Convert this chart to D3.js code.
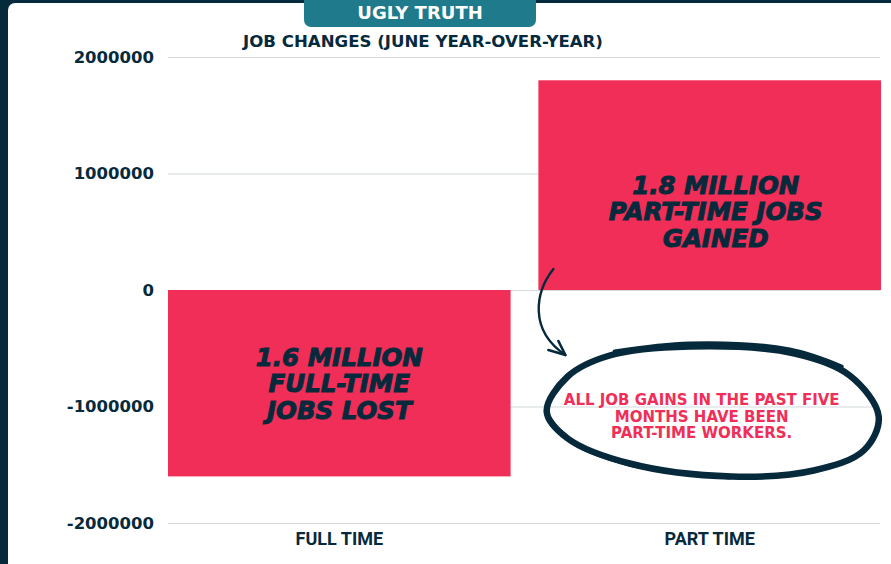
<!DOCTYPE html>
<html>
<head>
<meta charset="utf-8">
<script src="https://cdn.jsdelivr.net/npm/d3@7"></script>
<style>
  html, body { margin: 0; padding: 0; background: #052a3c; overflow: hidden; }
  svg { display: block; }
</style>
</head>
<body>
<svg id="chart" width="891" height="564"></svg>
<script>
// ---- data ----
const categories = ["FULL TIME", "PART TIME"];
const jobChanges = [-1600000, 1800000];
const yTickValues = [-2000000, -1000000, 0, 1000000, 2000000];
const barCaptions = [
  ["1.6 MILLION", "FULL-TIME", "JOBS LOST"],
  ["1.8 MILLION", "PART-TIME JOBS", "GAINED"]
];
const noteLines = ["ALL JOB GAINS IN THE PAST FIVE", "MONTHS HAVE BEEN", "PART-TIME WORKERS."];
const chartTitle = "JOB CHANGES (JUNE YEAR-OVER-YEAR)";
const tabLabel = "UGLY TRUTH";

// ---- style ----
const NAVY = "#062a3c";
const PINK = "#f02e57";
const TEAL = "#1f7a8b";
const GRID = "#d3d9dc";
const SANS = "'DejaVu Sans', sans-serif";

const svg = d3.select("#chart");

// panel card on the dark background
svg.append("rect")
  .attr("x", 8).attr("y", 3)
  .attr("width", 900).attr("height", 600)
  .attr("rx", 7)
  .attr("fill", "#ffffff");

// scales
const y = d3.scaleLinear().domain([-2000000, 2000000]).range([523, 57]);
const x = d3.scaleBand().domain(categories).range([168, 881]).paddingInner(0.075).paddingOuter(0);
const plotLeft = 168, plotRight = 880;

// gridlines
const grid = svg.append("g")
  .attr("transform", `translate(${plotLeft},0)`)
  .call(d3.axisLeft(y).tickValues(yTickValues).tickSize(-(plotRight - plotLeft)).tickFormat(""));
grid.select(".domain").remove();
grid.selectAll("line").attr("stroke", GRID).attr("stroke-width", 1);

// y axis labels (plain hyphen for negatives)
const yAxis = svg.append("g")
  .attr("transform", `translate(${plotLeft},0)`)
  .call(d3.axisLeft(y).tickValues(yTickValues).tickSize(0).tickPadding(14).tickFormat(d => String(d)));
yAxis.select(".domain").remove();
yAxis.selectAll("text")
  .attr("fill", NAVY)
  .style("font-family", SANS)
  .style("font-weight", "700")
  .style("font-size", "16.5px");

// bars
const data = categories.map((c, i) => ({ cat: c, value: jobChanges[i], caption: barCaptions[i] }));
svg.append("g").selectAll("rect")
  .data(data)
  .join("rect")
  .attr("x", d => x(d.cat))
  .attr("y", d => y(Math.max(0, d.value)))
  .attr("width", x.bandwidth())
  .attr("height", d => Math.abs(y(d.value) - y(0)))
  .attr("fill", PINK);

// captions inside bars
const lineH = 26.5;
svg.append("g").selectAll("text")
  .data(data)
  .join("text")
  .attr("text-anchor", "middle")
  .attr("fill", NAVY)
  .attr("stroke", NAVY)
  .attr("stroke-width", 1)
  .style("font-family", SANS)
  .style("font-weight", "700")
  .style("font-style", "italic")
  .style("font-size", "24.5px")
  .each(function (d) {
    const cx = x(d.cat) + x.bandwidth() / 2 + (d.value > 0 ? 6 : 0);
    const cy = (y(0) + y(d.value)) / 2 + (d.value > 0 ? 26 : 0);
    const n = d.caption.length;
    d3.select(this).selectAll("tspan")
      .data(d.caption)
      .join("tspan")
      .attr("x", cx)
      .attr("y", (t, i) => cy + (i - (n - 1) / 2) * lineH + 9)
      .text(t => t);
  });

// x axis labels
const xAxis = svg.append("g")
  .attr("transform", `translate(0,${y(-2000000)})`)
  .call(d3.axisBottom(x).tickSize(0).tickPadding(9));
xAxis.select(".domain").remove();
xAxis.selectAll("text")
  .attr("fill", NAVY)
  .style("font-family", "Roboto, sans-serif")
  .style("font-weight", "700")
  .style("font-size", "18px");

// title
svg.append("text")
  .attr("x", 423).attr("y", 46.5)
  .attr("text-anchor", "middle")
  .attr("fill", NAVY)
  .style("font-family", SANS)
  .style("font-weight", "700")
  .style("font-size", "16.6px")
  .text(chartTitle);

// header tab
svg.append("rect")
  .attr("x", 304).attr("y", -10)
  .attr("width", 232).attr("height", 37)
  .attr("rx", 7)
  .attr("fill", TEAL);
svg.append("text")
  .attr("x", 420).attr("y", 18.5)
  .attr("text-anchor", "middle")
  .attr("fill", "#ffffff")
  .style("font-family", SANS)
  .style("font-weight", "700")
  .style("font-size", "18px")
  .text(tabLabel);

// ---- annotation: arrow from the part-time bar to the circled note ----
const bx = x("PART TIME");
const bc = bx + x.bandwidth() / 2;
const y0 = y(0);
const ann = svg.append("g").attr("fill", "none").attr("stroke", NAVY).attr("stroke-linecap", "round");

const tip = [bx + 27, y0 + 65];
ann.append("path")
  .attr("stroke-width", 2.4)
  .attr("d", `M${bx + 15},${y0 - 21} C${bx - 3},${y0 + 2} ${bx - 10},${y0 + 40} ${tip[0]},${tip[1]}`);
ann.append("path")
  .attr("stroke-width", 2.6)
  .attr("stroke-linejoin", "round")
  .attr("d", `M${tip[0] - 17},${tip[1] - 5} L${tip[0]},${tip[1]} L${tip[0] - 7},${tip[1] - 14}`);

// hand-drawn loop around the note
const ec = [bc, y(-1000000)];
const loop = [
  [-163, 5], [-142, -30], [-100, -51], [-20, -60], [85, -53], [140, -31],
  [169, 10], [154, 44], [104, 64], [22, 70], [-80, 57], [-142, 32]
].map(([dx, dy]) => [ec[0] + dx, ec[1] + dy]);
ann.append("path")
  .attr("stroke-width", 6.5)
  .attr("d", d3.line().curve(d3.curveCatmullRomClosed.alpha(0.5))(loop));
// overlapping brush pass along the top
const topPass = [[-95, -55], [-20, -63], [80, -57], [132, -40]]
  .map(([dx, dy]) => [ec[0] + dx, ec[1] + dy]);
ann.append("path")
  .attr("stroke-width", 4)
  .attr("d", d3.line().curve(d3.curveCatmullRom.alpha(0.5))(topPass));
// heavier pass along the lower left
const lowPass = [[-160, 12], [-140, 34], [-80, 58], [20, 71]]
  .map(([dx, dy]) => [ec[0] + dx, ec[1] + dy]);
ann.append("path")
  .attr("stroke-width", 4)
  .attr("d", d3.line().curve(d3.curveCatmullRom.alpha(0.5))(lowPass));

// note text
svg.append("text")
  .attr("text-anchor", "middle")
  .attr("fill", PINK)
  .style("font-family", SANS)
  .style("font-weight", "700")
  .style("font-size", "15px")
  .selectAll("tspan")
  .data(noteLines)
  .join("tspan")
  .attr("x", bc - 8)
  .attr("y", (d, i) => y(-1000000) - 1.5 + i * 16.5)
  .text(d => d);
</script>
</body>
</html>
